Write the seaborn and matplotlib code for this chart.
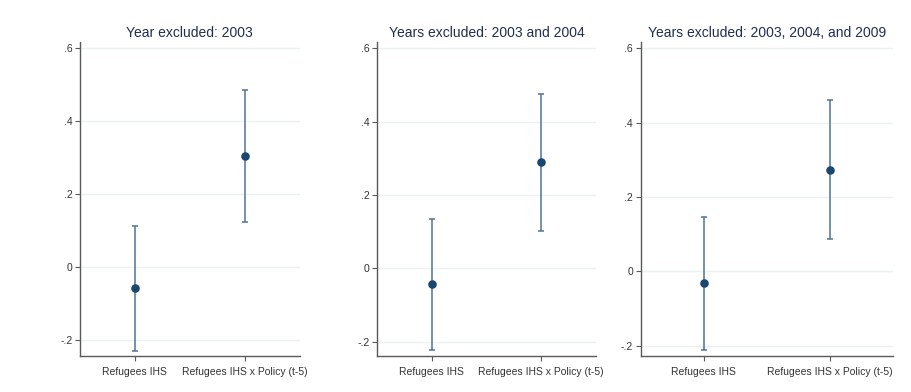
import numpy as np
import pandas as pd
import matplotlib
matplotlib.use("Agg")
import matplotlib.pyplot as plt
import seaborn as sns

sns.set_style("white")
plt.rcParams['font.family'] = ['Liberation Sans', 'DejaVu Sans']

# Coefficients and 95% CIs
terms = ['Refugees IHS', 'Refugees IHS x Policy (t-5)']
titles = ['Year excluded: 2003',
          'Years excluded: 2003 and 2004',
          'Years excluded: 2003, 2004, and 2009']
coef = [[-0.057, 0.306], [-0.044, 0.289], [-0.032, 0.273]]
ci_low = [[-0.228, 0.125], [-0.223, 0.102], [-0.211, 0.086]]
ci_high = [[0.114, 0.487], [0.134, 0.476], [0.146, 0.461]]
ylims = [(-0.243, 0.618), (-0.239, 0.618), (-0.228, 0.618)]
yticks = [-0.2, 0, 0.2, 0.4, 0.6]
ytick_labels = ['-.2', '0', '.2', '.4', '.6']

W, H = 911, 392
# axes boxes in pixels: left, right
boxes = [(80, 299.5), (377.3, 595.7), (640.7, 892.7)]
top_px, bot_px = 41.7, 356

navy = '#1a476f'
ci_col = '#4f7396'
grid_col = '#eaf2f3'
spine_col = '#5a5a5a'
text_col = '#333333'

fig = plt.figure(figsize=(W / 100, H / 100), dpi=100)

for i in range(3):
    l, r = boxes[i]
    ax = fig.add_axes([l / W, 1 - bot_px / H, (r - l) / W, (bot_px - top_px) / H])
    df = pd.DataFrame({'term': terms, 'coef': coef[i],
                       'lo': ci_low[i], 'hi': ci_high[i]})
    ax.errorbar(x=np.arange(len(terms)), y=df['coef'],
                yerr=[df['coef'] - df['lo'], df['hi'] - df['coef']],
                fmt='none', ecolor=ci_col, elinewidth=1.1, capsize=2.5,
                capthick=1.1, zorder=2)
    sns.scatterplot(data=df, x='term', y='coef', ax=ax, color=navy, s=38,
                    edgecolor=navy, linewidth=0, zorder=3)

    ax.set_xlim(-0.5, 1.5)
    ax.set_ylim(*ylims[i])
    ax.set_yticks(yticks)
    ax.set_yticklabels(ytick_labels)
    ax.set_xticks([0, 1])
    ax.set_xticklabels(terms)
    for y in yticks:
        ax.axhline(y, color=grid_col, linewidth=1.0, zorder=0)
    ax.set_xlabel('')
    ax.set_ylabel('')
    ax.tick_params(axis='both', length=3.5, width=0.8, color=spine_col,
                   labelsize=7.5, labelcolor=text_col, pad=2, left=True,
                   bottom=True)
    ax.tick_params(axis='x', pad=4.5)
    for side in ['top', 'right']:
        ax.spines[side].set_visible(False)
    for side in ['left', 'bottom']:
        ax.spines[side].set_color(spine_col)
        ax.spines[side].set_linewidth(1.0)
    ax.set_title(titles[i], fontsize=10, color='#1f2f4f', pad=3.5)

fig.savefig('out.png', dpi=100)
